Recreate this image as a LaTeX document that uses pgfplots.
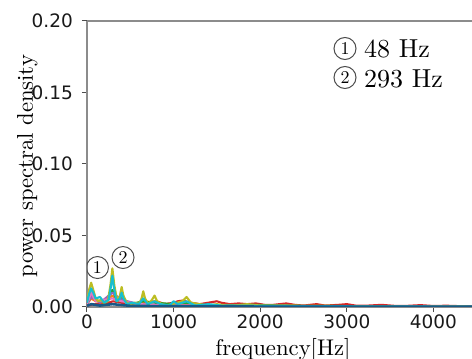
\documentclass[border=0pt]{standalone}
\usepackage{fontspec}
\usepackage{graphicx}
\usepackage{pgfplots}
\pgfplotsset{compat=1.18}
\newfontfamily\tickfont{DejaVu Sans}

\definecolor{tabblue}{HTML}{1F77B4}
\definecolor{taborange}{HTML}{FF7F0E}
\definecolor{tabgreen}{HTML}{2CA02C}
\definecolor{tabred}{HTML}{D62728}
\definecolor{tabpurple}{HTML}{9467BD}
\definecolor{tabpink}{HTML}{E377C2}
\definecolor{tabolive}{HTML}{BCBD22}
\definecolor{tabcyan}{HTML}{17BECF}
\definecolor{spine}{HTML}{8C8C8C}

% text set in 10pt Computer Modern shapes, enlarged
\newcommand\cmtext[2][2.27]{\scalebox{#1}{\fontsize{10}{12}\selectfont #2}}
% circled number
\tikzset{circnum/.style={circle,draw=black!70,line width=1pt,inner sep=0pt,minimum size=22pt}}

\begin{document}
\begin{tikzpicture}
\begin{axis}[
  scale only axis,
  width=385pt, height=286pt,
  xmin=0, xmax=4445,
  ymin=0, ymax=0.20,
  axis x line*=box,
  axis y line*=left,
  axis line style={spine, line width=1.4pt},
  xtick={0,1000,2000,3000,4000},
  ytick={0,0.05,0.10,0.15,0.20},
  xtick pos=bottom, ytick pos=left,
  tick align=outside,
  major tick length=5pt,
  tick style={black!70, line width=1pt},
  /pgf/number format/assume math mode=true,
  scaled x ticks=false, scaled y ticks=false,
  xticklabel style={/pgf/number format/1000 sep={}, inner sep=3pt},
  yticklabel style={/pgf/number format/fixed, /pgf/number format/fixed zerofill,
    /pgf/number format/precision=2, inner sep=0pt, xshift=-9pt},
  ticklabel style={font=\tickfont\fontsize{18.5}{20}\selectfont, text=black!90},
  xlabel={\cmtext{frequency[Hz]}},
  ylabel={\cmtext{power spectral density}},
  xlabel style={at={(rel axis cs:0.509,0)}, anchor=base, yshift=-48pt, inner sep=0pt},
  ylabel style={at={(rel axis cs:0,0.493)}, anchor=base, yshift=54pt, inner sep=0pt},
  every axis plot/.append style={line width=2.1pt, line join=round},
  clip=true,
]
\coordinate (O) at (rel axis cs:0,0);
\addplot[tabred] coordinates {(0,0.001)(100,0.002)(200,0.002)(300,0.004)(400,0.003)(500,0.002)(600,0.002)(700,0.003)(800,0.004)(900,0.002)(1000,0.003)(1050,0.004)(1100,0.0045)(1200,0.003)(1300,0.002)(1400,0.003)(1500,0.004)(1550,0.003)(1650,0.002)(1750,0.0025)(1850,0.002)(1950,0.0025)(2050,0.0015)(2150,0.0015)(2300,0.0025)(2400,0.0015)(2500,0.001)(2650,0.002)(2750,0.001)(2900,0.0015)(3000,0.002)(3100,0.001)(3250,0.001)(3400,0.0015)(3550,0.0008)(3700,0.0008)(3850,0.0013)(4000,0.0007)(4150,0.0009)(4300,0.0006)(4445,0.0006)};
\addplot[taborange] coordinates {(0,0.002)(48,0.006)(100,0.004)(200,0.003)(293,0.008)(340,0.005)(400,0.007)(450,0.003)(550,0.002)(650,0.003)(780,0.004)(900,0.002)(1100,0.002)(1300,0.001)(1600,0.0015)(2000,0.001)(2500,0.0008)(3000,0.0006)(4445,0.0004)};
\addplot[tabgreen] coordinates {(0,0.002)(48,0.008)(100,0.005)(200,0.003)(293,0.012)(350,0.004)(400,0.006)(500,0.002)(650,0.004)(780,0.003)(1000,0.002)(1150,0.003)(1400,0.001)(1900,0.0015)(2500,0.0008)(3500,0.0005)(4445,0.0003)};
\addplot[tabpurple] coordinates {(0,0.002)(48,0.007)(150,0.003)(293,0.010)(400,0.005)(600,0.002)(800,0.0015)(1200,0.001)(4445,0.0002)};
\addplot[tabpink] coordinates {(0,0.002)(48,0.010)(100,0.004)(293,0.006)(400,0.004)(600,0.002)(1000,0.001)(1500,0.0008)(4445,0.0003)};
\addplot[tabolive] coordinates {(0,0.004)(24,0.012)(48,0.017)(72,0.012)(100,0.006)(130,0.004)(160,0.005)(200,0.003)(240,0.004)(270,0.015)(293,0.027)(316,0.015)(350,0.004)(380,0.008)(400,0.014)(420,0.008)(460,0.003)(500,0.002)(550,0.003)(600,0.002)(630,0.006)(650,0.011)(670,0.006)(710,0.002)(750,0.005)(780,0.008)(810,0.004)(860,0.002)(920,0.001)(980,0.002)(1040,0.003)(1100,0.004)(1150,0.007)(1200,0.003)(1300,0.002)(1400,0.001)(1500,0.002)(1600,0.001)(1700,0.001)(1850,0.002)(2000,0.001)(2200,0.001)(2500,0.0008)(3000,0.0006)(3500,0.0005)(4000,0.0004)(4445,0.0003)};
\addplot[tabcyan] coordinates {(0,0.003)(24,0.009)(48,0.013)(72,0.010)(100,0.006)(150,0.007)(200,0.003)(250,0.005)(275,0.014)(293,0.022)(310,0.014)(340,0.004)(380,0.006)(400,0.010)(420,0.006)(460,0.002)(520,0.003)(600,0.002)(650,0.006)(700,0.002)(780,0.004)(850,0.002)(950,0.001)(1000,0.004)(1050,0.002)(1150,0.004)(1250,0.001)(1400,0.002)(1550,0.001)(1700,0.001)(2000,0.0008)(2500,0.0006)(3000,0.0005)(3500,0.0004)(4000,0.0003)(4445,0.0003)};
\addplot[tabblue!75!black, line width=2.6pt] coordinates {(0,0.0008)(48,0.002)(150,0.001)(293,0.002)(500,0.0008)(1000,0.0005)(2000,0.0003)(4445,0.0002)};

% peak markers
\node[circnum] at (axis cs:121,0.0276) {\cmtext[1.8]{1}};
\node[circnum] at (axis cs:416,0.0346) {\cmtext[1.8]{2}};
\end{axis}

% peak frequencies
\node[circnum] at ([shift={(258pt,258.5pt)}]O) {\cmtext[1.8]{1}};
\node[anchor=base west, inner sep=0pt] at ([shift={(277pt,249pt)}]O) {\cmtext[2.6]{48 Hz}};
\node[circnum] at ([shift={(258pt,229.5pt)}]O) {\cmtext[1.8]{2}};
\node[anchor=base west, inner sep=0pt] at ([shift={(277pt,219pt)}]O) {\cmtext[2.6]{293 Hz}};

\pgfresetboundingbox
\path[use as bounding box] ([shift={(-87pt,-52pt)}]O) rectangle ([shift={(385pt,307pt)}]O);
\end{tikzpicture}
\end{document}
